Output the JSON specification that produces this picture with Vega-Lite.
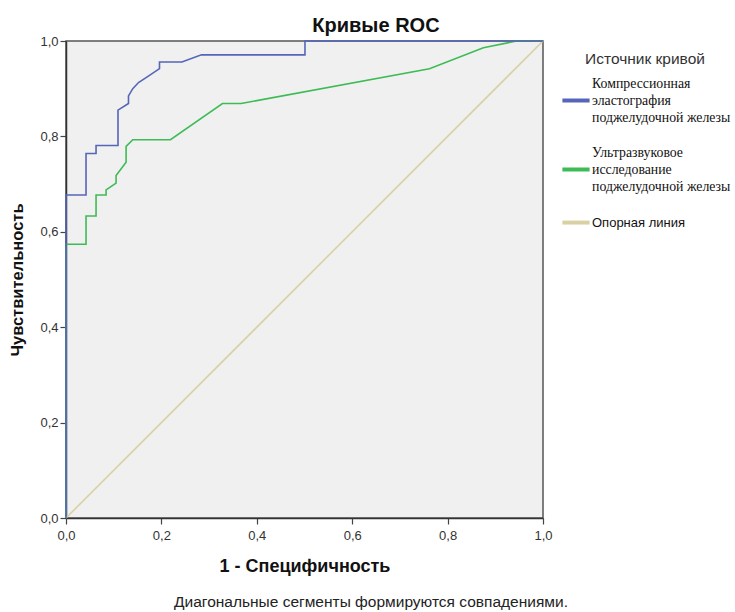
{
  "$schema": "https://vega.github.io/schema/vega-lite/v6.json",
  "autosize": {"type": "pad"},
  "padding": {"left": 9, "top": 16, "right": 2, "bottom": 2},
  "background": "white",
  "title": {"text": "Кривые ROC", "frame": "bounds", "anchor": "middle", "fontSize": 20, "fontWeight": "bold", "font": "Liberation Sans", "color": "#111", "offset": -2},
  "spacing": 16,
  "resolve": {"scale": {"color": "independent"}, "legend": {"color": "independent"}},
  "vconcat": [
    {
      "width": 477,
      "height": 477,
      "data": {"values": [
        {"src": "Опорная линия", "i": 0, "fpr": 0, "tpr": 0},
        {"src": "Опорная линия", "i": 1, "fpr": 1, "tpr": 1},
        {"src": "Ультразвуковое|исследование|поджелудочной железы", "i": 0, "fpr": 0, "tpr": 0},
        {"src": "Ультразвуковое|исследование|поджелудочной железы", "i": 1, "fpr": 0, "tpr": 0.574},
        {"src": "Ультразвуковое|исследование|поджелудочной железы", "i": 2, "fpr": 0.042, "tpr": 0.574},
        {"src": "Ультразвуковое|исследование|поджелудочной железы", "i": 3, "fpr": 0.042, "tpr": 0.633},
        {"src": "Ультразвуковое|исследование|поджелудочной железы", "i": 4, "fpr": 0.063, "tpr": 0.633},
        {"src": "Ультразвуковое|исследование|поджелудочной железы", "i": 5, "fpr": 0.063, "tpr": 0.677},
        {"src": "Ультразвуковое|исследование|поджелудочной железы", "i": 6, "fpr": 0.084, "tpr": 0.677},
        {"src": "Ультразвуковое|исследование|поджелудочной железы", "i": 7, "fpr": 0.084, "tpr": 0.688},
        {"src": "Ультразвуковое|исследование|поджелудочной железы", "i": 8, "fpr": 0.105, "tpr": 0.702},
        {"src": "Ультразвуковое|исследование|поджелудочной железы", "i": 9, "fpr": 0.105, "tpr": 0.718},
        {"src": "Ультразвуковое|исследование|поджелудочной железы", "i": 10, "fpr": 0.126, "tpr": 0.746},
        {"src": "Ультразвуковое|исследование|поджелудочной железы", "i": 11, "fpr": 0.126, "tpr": 0.779},
        {"src": "Ультразвуковое|исследование|поджелудочной железы", "i": 12, "fpr": 0.140, "tpr": 0.793},
        {"src": "Ультразвуковое|исследование|поджелудочной железы", "i": 13, "fpr": 0.219, "tpr": 0.793},
        {"src": "Ультразвуковое|исследование|поджелудочной железы", "i": 14, "fpr": 0.328, "tpr": 0.869},
        {"src": "Ультразвуковое|исследование|поджелудочной железы", "i": 15, "fpr": 0.367, "tpr": 0.869},
        {"src": "Ультразвуковое|исследование|поджелудочной железы", "i": 16, "fpr": 0.762, "tpr": 0.942},
        {"src": "Ультразвуковое|исследование|поджелудочной железы", "i": 17, "fpr": 0.875, "tpr": 0.986},
        {"src": "Ультразвуковое|исследование|поджелудочной железы", "i": 18, "fpr": 0.945, "tpr": 1.0},
        {"src": "Ультразвуковое|исследование|поджелудочной железы", "i": 19, "fpr": 1.0, "tpr": 1.0},
        {"src": "Компрессионная|эластография|поджелудочной железы", "i": 0, "fpr": 0, "tpr": 0},
        {"src": "Компрессионная|эластография|поджелудочной железы", "i": 1, "fpr": 0, "tpr": 0.677},
        {"src": "Компрессионная|эластография|поджелудочной железы", "i": 2, "fpr": 0.042, "tpr": 0.677},
        {"src": "Компрессионная|эластография|поджелудочной железы", "i": 3, "fpr": 0.042, "tpr": 0.764},
        {"src": "Компрессионная|эластография|поджелудочной железы", "i": 4, "fpr": 0.063, "tpr": 0.764},
        {"src": "Компрессионная|эластография|поджелудочной железы", "i": 5, "fpr": 0.063, "tpr": 0.781},
        {"src": "Компрессионная|эластография|поджелудочной железы", "i": 6, "fpr": 0.109, "tpr": 0.781},
        {"src": "Компрессионная|эластография|поджелудочной железы", "i": 7, "fpr": 0.109, "tpr": 0.855},
        {"src": "Компрессионная|эластография|поджелудочной железы", "i": 8, "fpr": 0.131, "tpr": 0.869},
        {"src": "Компрессионная|эластография|поджелудочной железы", "i": 9, "fpr": 0.131, "tpr": 0.885},
        {"src": "Компрессионная|эластография|поджелудочной железы", "i": 10, "fpr": 0.140, "tpr": 0.900},
        {"src": "Компрессионная|эластография|поджелудочной железы", "i": 11, "fpr": 0.152, "tpr": 0.913},
        {"src": "Компрессионная|эластография|поджелудочной железы", "i": 12, "fpr": 0.175, "tpr": 0.928},
        {"src": "Компрессионная|эластография|поджелудочной железы", "i": 13, "fpr": 0.196, "tpr": 0.942},
        {"src": "Компрессионная|эластография|поджелудочной железы", "i": 14, "fpr": 0.196, "tpr": 0.956},
        {"src": "Компрессионная|эластография|поджелудочной железы", "i": 15, "fpr": 0.243, "tpr": 0.956},
        {"src": "Компрессионная|эластография|поджелудочной железы", "i": 16, "fpr": 0.284, "tpr": 0.971},
        {"src": "Компрессионная|эластография|поджелудочной железы", "i": 17, "fpr": 0.501, "tpr": 0.971},
        {"src": "Компрессионная|эластография|поджелудочной железы", "i": 18, "fpr": 0.501, "tpr": 1.0},
        {"src": "Компрессионная|эластография|поджелудочной железы", "i": 19, "fpr": 1.0, "tpr": 1.0}
      ]},
      "mark": {"type": "line", "strokeWidth": 1.6, "clip": false},
      "encoding": {
        "x": {
          "field": "fpr", "type": "quantitative",
          "scale": {"domain": [0, 1], "nice": false, "zero": false},
          "axis": {"title": "1 - Специфичность", "values": [0, 0.2, 0.4, 0.6, 0.8, 1], "labelExpr": "replace(format(datum.value, '.1f'), '.', ',')", "grid": false, "tickSize": 6, "labelPadding": 5, "labelFlush": false, "labelFont": "Liberation Sans", "labelFontSize": 13, "labelColor": "#333", "titleFont": "Liberation Sans", "titleFontSize": 18, "titleFontWeight": "bold", "titleColor": "#111", "titlePadding": 15, "domainColor": "#333", "domainWidth": 1.5, "tickColor": "#444", "tickWidth": 1.2}
        },
        "y": {
          "field": "tpr", "type": "quantitative",
          "scale": {"domain": [0, 1], "nice": false, "zero": false},
          "axis": {"title": "Чувствительность", "values": [0, 0.2, 0.4, 0.6, 0.8, 1], "labelExpr": "replace(format(datum.value, '.1f'), '.', ',')", "grid": false, "tickSize": 6, "labelPadding": 2, "labelFlush": false, "labelFont": "Liberation Sans", "labelFontSize": 13, "labelColor": "#333", "titleFont": "Liberation Sans", "titleFontSize": 16.5, "titleFontWeight": "bold", "titleColor": "#111", "titlePadding": 14, "domainColor": "#333", "domainWidth": 1.5, "tickColor": "#444", "tickWidth": 1.2}
        },
        "color": {
          "field": "src", "type": "nominal",
          "scale": {
            "domain": ["Компрессионная|эластография|поджелудочной железы", "Ультразвуковое|исследование|поджелудочной железы", "Опорная линия"],
            "range": ["#5566b8", "#3dbb55", "#d9d1a3"]
          },
          "legend": {
            "title": "Источник кривой", "titleFont": "Liberation Sans", "titleFontSize": 15.5, "titleFontWeight": "normal", "titleColor": "#333", "titleAnchor": "middle", "titlePadding": 17,
            "symbolType": "stroke", "symbolStrokeWidth": 4, "symbolSize": 740,
            "labelFont": "Liberation Serif", "labelFontSize": 13.8, "labelColor": "#111", "labelLimit": 300, "labelOffset": 0,
            "labelExpr": "split(datum.label, '|')",
            "rowPadding": 21, "offset": 2, "padding": 11,
            "encode": {
              "symbols": {"update": {"shape": {"signal": "datum.value == 'Опорная линия' ? 'M-1,-2.2H1' : 'stroke'"}}},
              "labels": {"update": {"lineHeight": {"value": 17}, "dy": {"signal": "datum.value == 'Опорная линия' ? -30 : -17"}, "font": {"signal": "datum.value == 'Опорная линия' ? 'Liberation Sans' : 'Liberation Serif'"}, "fontSize": {"signal": "datum.value == 'Опорная линия' ? 13 : 13.8"}}}
            }
          }
        },
        "order": {"field": "i", "type": "quantitative"}
      }
    },
    {
      "width": 610,
      "height": 20,
      "view": {"stroke": null, "fill": null},
      "data": {"values": [{"note": "Диагональные сегменты формируются совпадениями."}]},
      "mark": {"type": "text", "font": "Liberation Sans", "fontSize": 15.5, "color": "#222", "align": "center", "baseline": "middle"},
      "encoding": {"text": {"field": "note", "type": "nominal"}}
    }
  ],
  "config": {
    "view": {"fill": "#f0f0f0", "stroke": "#555", "strokeWidth": 1.5}
  }
}
